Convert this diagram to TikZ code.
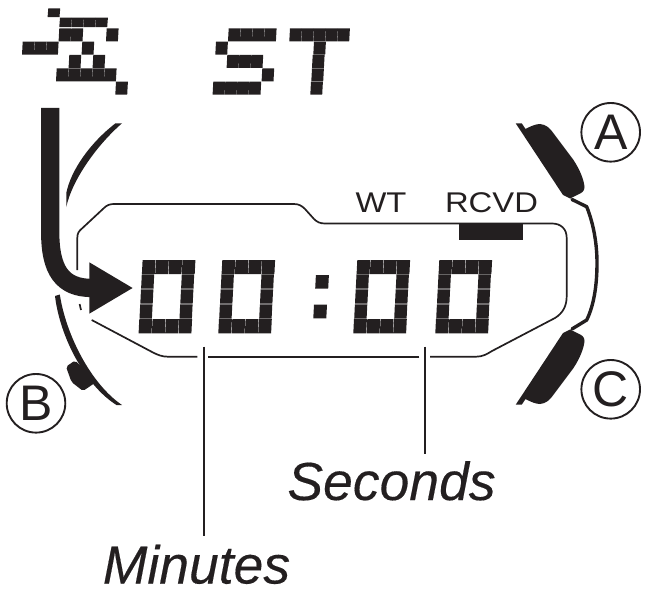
\documentclass[tikz,border=0pt]{standalone}
\usepackage{fontspec}
\usetikzlibrary{arrows.meta}
\setmainfont{Liberation Sans}
\newfontfamily\widefont[FakeStretch=1.15]{Liberation Sans}
\newfontfamily\labelfont[ItalicFeatures={FakeBold=0.25}]{Liberation Sans}
\definecolor{lcdink}{HTML}{231F20}
\newcommand{\lcdcell}[4]{\fill[lcdink] (#1,#2) -- ++(#3,0) -- ++(-.7,#4) -- ++(-#3,0) -- cycle;}
\tikzset{
  panel/.style={draw=lcdink,line width=1.7pt},
  casing/.style={draw=lcdink,line width=3.4pt,line cap=round,line join=round},
  leader/.style={draw=lcdink,line width=2pt},
  btnlabel/.style={circle,draw=lcdink,line width=1.9pt,minimum size=58.6pt,inner sep=0pt,text=lcdink,font=\fontsize{50}{50}\selectfont},
  smalllabel/.style={text=lcdink,inner sep=0pt,anchor=base,font=\widefont\fontsize{28.5}{28.5}\selectfont},
  biglabel/.style={text=lcdink,inner sep=0pt,anchor=base,font=\labelfont\itshape\fontsize{53.5}{53.5}\selectfont}
}
\begin{document}
\begin{tikzpicture}[x=1pt,y=-1pt]
  \useasboundingbox (0,0) rectangle (653,591);
  % top row of small cells
  \lcdcell{48.3}{8.3}{11.9}{8.8}
  \foreach \cx in {60,72,84,96} {\lcdcell{\cx}{17.7}{11.9}{9.5}}
  \foreach \cx/\cy in {59.3/28.3,71.3/28.3,106.7/28.3,22.7/41.7,34.7/41.7,46.7/41.7,82.3/41.7,
      69.3/55,93.3/55,56.7/68.3,68.7/68.3,80.7/68.3,92.7/68.3,104.7/68.3,116/81.7,
      228.7/28.3,240.7/28.3,252.7/28.3,264.7/28.3,216/41.7,227.3/55,239.3/55,251.3/55,
      262.3/68.3,213.3/81.7,225.3/81.7,237.3/81.7,249.3/81.7,
      290/28.3,302/28.3,314/28.3,326/28.3,338/28.3,314/41.7,312.7/55,312/68.3,311/81.7} {
    \lcdcell{\cx}{\cy}{11.9}{13}
  }
  % digits
  \foreach \dx in {139.3,219,354,436} {
    \foreach \i in {0,...,3} {
      \lcdcell{\dx+3.3+\i*13.3}{260}{12.9}{14}
      \lcdcell{\dx+\i*13.3}{319}{12.9}{14.3}
    }
    \foreach \j/\cy in {1/274.3,2/289.3,3/304.3} {
      \lcdcell{\dx+3.3-\j*.8}{\cy}{12.4}{14.4}
      \lcdcell{\dx+3.3-\j*.8+40}{\cy}{12.4}{14.4}
    }
  }
  \lcdcell{315.9}{275}{13}{13.5}
  \lcdcell{314}{304.5}{13}{13.8}
  % panel outline
  \draw[panel] (77.3,270) -- (77.3,238) .. controls (77.3,233) and (79,231) .. (82,228.5)
    -- (104,208) .. controls (107,205) and (110,204) .. (114,204) -- (294,204)
    .. controls (299,204) and (302,206) .. (305,209) -- (314,219)
    .. controls (317,222) and (320,223.5) .. (325,223.5) -- (552,223.5)
    .. controls (561,223.5) and (566.7,229) .. (566.7,238) -- (566.7,296)
    .. controls (566.7,306) and (563,313) .. (555,318) -- (492,351)
    .. controls (487,354) and (483,356.7) .. (476,356.7) -- (430,356.7);
  \draw[panel] (419.3,356.7) -- (207.7,356.7);
  \draw[panel] (197.3,356.7) -- (168,356.7) .. controls (162,356.7) and (158,355) .. (153,352.5) -- (91.7,320);
  \draw[panel] (79.6,304) -- (81,310);
  \fill[lcdink] (458.7,223) rectangle (523.3,240);
  % casing left
  \fill[lcdink] (115.5,123.3) .. controls (90,143) and (71,170) .. (66.3,193) -- (66.3,207)
    .. controls (72,180) and (97,145) .. (122,123.3) -- cycle;
  \fill[lcdink] (55,296) -- (59.8,294.5) .. controls (66,335) and (91,384) .. (122,405)
    -- (116.5,405) .. controls (86,386) and (60,338) .. (55,296) -- cycle;
  \fill[lcdink,rounded corners=2pt] (66,366.7) -- (75,360.5) -- (97,381.5) -- (83,391) -- (71.5,382) -- cycle;
  % casing right
  \draw[casing] (572,199.5) -- (586.7,206.7) .. controls (594,225) and (597,245) .. (597,263)
    .. controls (597,285) and (594,305) .. (586.7,320) -- (572,329);
  \fill[lcdink] (515.7,123.3) -- (521.7,123.3) -- (525.5,129) .. controls (531,126) and (536,124) .. (540,124)
    .. controls (546,124.5) and (550,128) .. (554,134) -- (573.5,160)
    .. controls (580,170) and (584,180) .. (584.5,187) .. controls (584.5,191) and (582,193) .. (578,194.5)
    -- (570,198.5) -- (563,195) -- cycle;
  \fill[lcdink] (515.7,404.7) -- (521.7,404.7) -- (525.5,399) .. controls (531,402) and (536,404) .. (540,404)
    .. controls (546,403.5) and (550,400) .. (554,394) -- (573.5,368)
    .. controls (580,358) and (584,348) .. (584.5,341) .. controls (584.5,337) and (582,335) .. (578,333.5)
    -- (570,329.5) -- (563,333) -- cycle;
  % buttons
  \node[btnlabel] (btnA) at (610.7,132.3) {A};
  \node[btnlabel] (btnB) at (36,403.3) {B};
  \node[btnlabel] (btnC) at (610.7,389.3) {C};
  % labels
  \node[smalllabel] (wt) at (381,212.5) {WT};
  \node[smalllabel] (rcvd) at (491.5,212.5) {RCVD};
  \node[biglabel] (seconds) at (391.5,500) {Seconds};
  \node[biglabel] (minutes) at (196.5,583.5) {Minutes};
  % leaders
  \coordinate (minTop) at (203.7,346.7);
  \coordinate (secTop) at (425.3,346.7);
  \draw[leader] (minTop) -- ([yshift=9pt]minTop |- minutes.north);
  \draw[leader] (secTop) -- ([yshift=7pt]secTop |- seconds.north);
  % big arrow
  \coordinate (arrowStart) at (50.2,108);
  \coordinate (arrowTip) at (133.3,288);
  \draw[lcdink,line width=18.3pt,-{Triangle[length=44pt,width=48pt]}] (arrowStart) -- (50.2,232)
    .. controls (50.2,270) and (62,288) .. (92,288) -- (arrowTip);
\end{tikzpicture}
\end{document}
